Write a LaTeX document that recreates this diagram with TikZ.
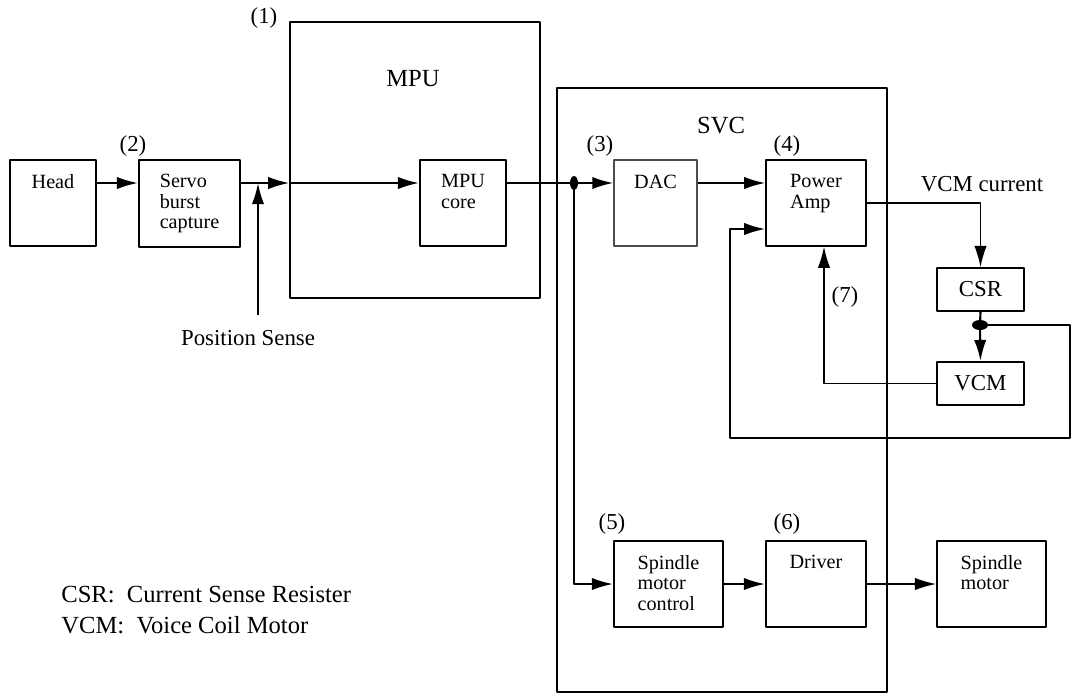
\documentclass[tikz,border=0pt]{standalone}
\usepackage{fontspec}
\setmainfont{Liberation Serif}
\usetikzlibrary{arrows.meta}
% box from pixel corners: name, text, x1, y1, x2, y2
\newcommand\blk[7][]{\node[box,#1,minimum width={(#6-#4)*0.02cm},minimum height={(#7-#5)*0.02cm},
  label={[lbl]north:#3}] (#2) at ({(#4+#6)/2},{(#5+#7)/2}) {};}
\begin{document}
\begin{tikzpicture}[x=0.02cm,y=-0.02cm,line join=round,>={Latex[length=12pt,width=7pt]},
  font=\fontsize{13}{15}\selectfont,
  box/.style={draw,line width=1.1pt,inner sep=0pt},
  lbl/.style={anchor=north,align=left,inner sep=0pt,yshift=-8.5pt,font=\fontsize{11.5}{11.7}\selectfont},
  big/.style={font=\fontsize{14}{16}\selectfont},
  sgl/.style={line width=1.2pt},
  thn/.style={line width=0.7pt}]
\useasboundingbox (0,0) rectangle (1073,698);
% frames
\node[box,line width=0.8pt,minimum width=5cm,minimum height=5.52cm] (mpu) at (415,160) {};
\node[box,minimum width=6.6cm,minimum height=12.08cm] (svc) at (722,390) {};
\node[big] (mpulbl) at (413,79) {MPU};
\node[big] (svclbl) at (721,126) {SVC};
% blocks
\blk{head}{Head}{10}{160}{96}{246}
\blk{servo}{Servo\\burst\\capture}{139}{160}{240}{247}
\blk{core}{MPU\\core}{420}{160}{506}{246}
\blk[line width=0.7pt,draw=black!70]{dac}{DAC}{614}{160}{697}{246}
\blk[line width=0.8pt]{pa}{Power\\Amp}{766}{160}{866}{246}
\node[box,minimum width=1.74cm,minimum height=0.86cm] (csr) at (980.5,289.5) {CSR};
\node[box,minimum width=1.74cm,minimum height=0.86cm] (vcm) at (980.5,383.5) {VCM};
\blk{smc}{Spindle\\motor\\control}{614}{541}{723}{627}
\blk{drv}{Driver}{766}{541}{866}{627}
\blk{spm}{Spindle\\motor}{937}{541}{1046}{627}
% numbers
\node (n1) at (264,18) {(1)};
\node (n2) at (133,146) {(2)};
\node (n3) at (600,146) {(3)};
\node (n4) at (787,146) {(4)};
\node (n5) at (612,524) {(5)};
\node (n6) at (787,524) {(6)};
\node (n7) at (845,297) {(7)};
\node (vcmi) at (982,184) {VCM current};
\node (pos) at (248,338) {Position Sense};
\node[big,anchor=west,inner sep=0pt] (leg1) at (61,595) {CSR:\ \ Current Sense Resister};
\node[big,anchor=west,inner sep=0pt] (leg2) at (61,625) {VCM:\ \ Voice Coil Motor};
% junctions
\coordinate (sig) at (0,183);
\coordinate (j1) at (574,183);
\coordinate (j2) at (980,325);
\coordinate (ps) at (258,315);
\coordinate (x7) at (824,0);
\coordinate (pain) at (0,229);
\fill (j1) ellipse (4 and 7);
\fill (j2) ellipse (8 and 5);
% signal path
\draw[sgl,->] (head.east|-sig) -- (servo.west|-sig);
\draw[sgl,->] (servo.east|-sig) -- (mpu.west|-sig);
\draw[sgl,->] (mpu.west|-sig) -- (core.west|-sig);
\draw[sgl,->] (ps) -- (ps|-sig);
\draw[sgl] (core.east|-sig) -- (j1);
\draw[sgl,->] (j1) -- (dac.west|-sig);
\draw[sgl,->] (j1) |- (smc.west);
\draw[sgl,->] (dac.east|-sig) -- (pa.west|-sig);
\draw[thn,->] (pa.east) -| (csr.north);
\draw[sgl] (csr.south) -- (j2);
\draw[sgl,->] (j2) -- (vcm.north);
\draw[sgl,->] (j2) -- (1070,325) -- (1070,438) -- (730,438) |- (pa.west|-pain);
\draw[thn,->] (vcm.west) -| (pa.south-|x7);
\draw[sgl,->] (smc.east) -- (drv.west);
\draw[thn,->] (drv.east) -- (spm.west);
\end{tikzpicture}
\end{document}
